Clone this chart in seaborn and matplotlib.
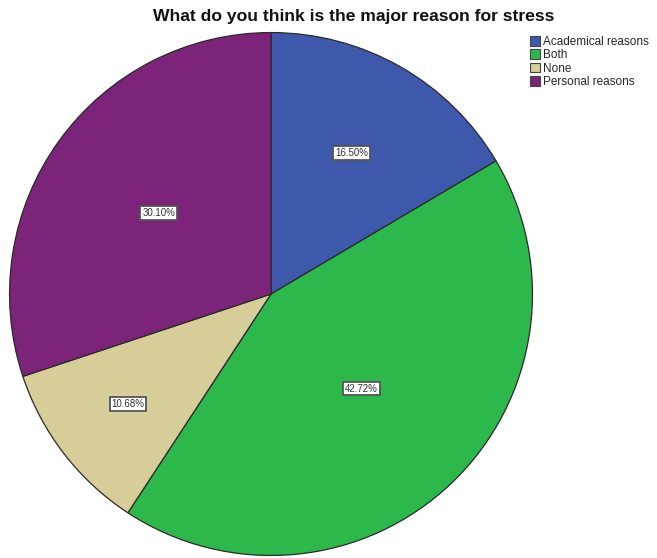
import matplotlib
matplotlib.use("Agg")
import matplotlib.pyplot as plt
import seaborn as sns
import numpy as np

sns.set_theme(style="white")
plt.rcParams['font.family'] = ['Liberation Sans', 'DejaVu Sans']

categories = ["Academical reasons", "Both", "None", "Personal reasons"]
percentages = [16.50, 42.72, 10.68, 30.10]
colors = ["#3e58ac", "#2db84b", "#d6cd98", "#7b2479"]
label_radius = [0.62, 0.50, 0.69, 0.53]

fig = plt.figure(figsize=(6.57, 5.58), dpi=100)
ax = fig.add_axes([0.0137, 0.0036, 0.7976, 0.939])

wedges, _ = ax.pie(
    percentages,
    colors=colors,
    startangle=90,
    counterclock=False,
    wedgeprops=dict(edgecolor="#2a2a2a", linewidth=0.9),
)
ax.set_xlim(-1.002, 1.002)
ax.set_ylim(-1.002, 1.002)
ax.set_aspect("equal")

for w, pct, r in zip(wedges, percentages, label_radius):
    mid = np.deg2rad((w.theta1 + w.theta2) / 2)
    ax.text(r * np.cos(mid), r * np.sin(mid), f"{pct:.2f}%",
            ha="center", va="center", fontsize=7, color="#333333",
            bbox=dict(boxstyle="square,pad=0.2", facecolor="white",
                      edgecolor="#555555", linewidth=1.3))

fig.text(0.539, 0.971, "What do you think is the major reason for stress",
         ha="center", va="center", fontsize=12.6, fontweight="bold", color="#111111")

handles = [plt.Rectangle((0, 0), 1, 1, facecolor=c, edgecolor="#444444", linewidth=0.8)
           for c in colors]
fig.legend(handles, categories, loc="upper left", bbox_to_anchor=(0.806, 0.936),
           frameon=False, fontsize=8.5, handlelength=0.9, handleheight=0.9,
           handletextpad=0.25, labelspacing=0.12, borderaxespad=0, borderpad=0)

fig.savefig("out.png", dpi=100)
